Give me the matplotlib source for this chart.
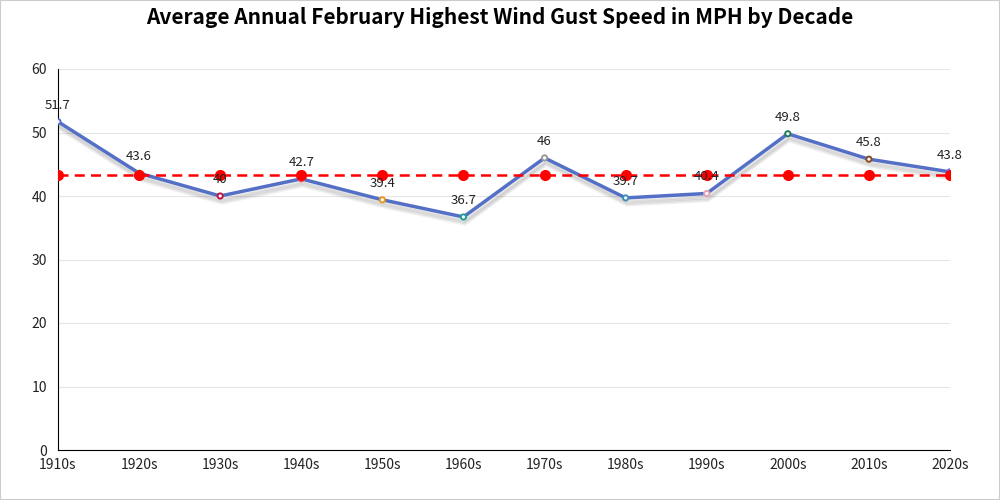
import matplotlib.pyplot as plt
import matplotlib.patheffects as pe
import numpy as np

plt.rcParams['font.family'] = ['Noto Sans CJK SC', 'DejaVu Sans']

# Data
decades = ['1910s', '1920s', '1930s', '1940s', '1950s', '1960s',
           '1970s', '1980s', '1990s', '2000s', '2010s', '2020s']
gust_mph = [51.7, 43.6, 40, 42.7, 39.4, 36.7, 46, 39.7, 40.4, 49.8, 45.8, 43.8]
marker_colors = ['#5470c6', '#91cc75', '#c0143c', '#ee6666', '#e8961c', '#1f9e94',
                 '#999999', '#3a8fb7', '#e8a0b4', '#23785a', '#8b4a1c', '#7b68ee']

x = np.arange(len(decades))
avg = np.mean(gust_mph)

fig = plt.figure(figsize=(10, 5), dpi=100)
ax = fig.add_axes([0.058, 0.10, 0.892, 0.762])

# grid
ax.set_ylim(0, 60)
ax.set_xlim(0, len(decades) - 1)
ax.set_yticks(range(0, 61, 10))
ax.yaxis.grid(True, color='#e6e6e6', linewidth=0.8)
ax.set_axisbelow(True)

# main line with soft shadow
shadows = [pe.SimpleLineShadow(offset=(1, -d), shadow_color='black', alpha=0.06, rho=1.0)
           for d in (2, 3, 4, 5)]
ax.plot(x, gust_mph, color='#5470c6', linewidth=2.5, zorder=3,
        path_effects=shadows + [pe.Normal()])
ax.scatter(x, gust_mph, s=14, facecolor='white', edgecolor=marker_colors,
           linewidth=1.4, zorder=4)

# average line
ax.plot(x, [avg] * len(x), color='#ff0000', linestyle=(0, (4, 2.5)), linewidth=1.8,
        marker='o', markersize=7, zorder=5)

# data labels
for xi, v in zip(x, gust_mph):
    ax.text(xi, v + 1.6, f'{v:g}', ha='center', va='bottom', fontsize=9.5, color='#222222', zorder=6)

ax.set_xticks(x)
ax.set_xticklabels(decades)
ax.tick_params(axis='both', length=0, labelsize=10, colors='#222222')
ax.tick_params(axis='x', pad=6)
ax.tick_params(axis='y', pad=8)

for side in ['top', 'right']:
    ax.spines[side].set_visible(False)
ax.spines['left'].set_color('black')
ax.spines['bottom'].set_color('black')

fig.suptitle('Average Annual February Highest Wind Gust Speed in MPH by Decade',
             x=0.5, y=0.985, fontsize=15, fontweight='bold')

# light figure border
fig.patches.append(plt.Rectangle((0, 0), 1, 1, transform=fig.transFigure,
                                 fill=False, edgecolor='#cccccc', linewidth=1.5))

fig.savefig('out.png', dpi=100)
